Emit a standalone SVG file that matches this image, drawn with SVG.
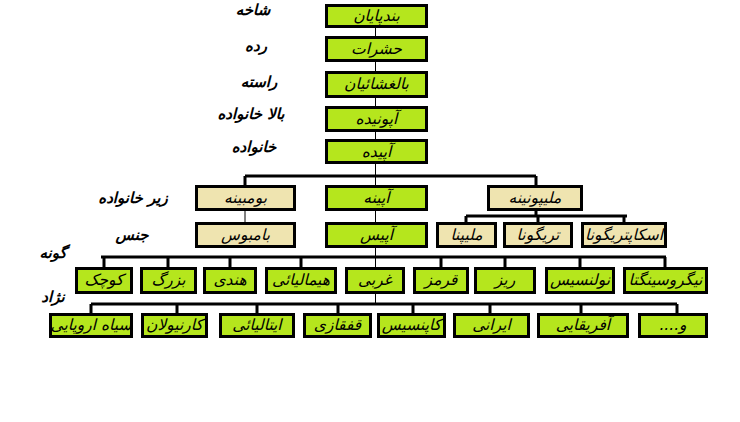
<svg xmlns="http://www.w3.org/2000/svg" width="740" height="422" viewBox="0 0 740 422">
<style>
.g{fill:#B5E61D;stroke:#000;stroke-width:3}
.b{fill:#EFE4B0;stroke:#000;stroke-width:3}
.t{font-family:"DejaVu Sans",sans-serif;font-size:15.5px;font-style:italic;text-anchor:middle;fill:#000}
.l{font-family:"DejaVu Sans",sans-serif;font-size:15px;font-style:italic;font-weight:bold;text-anchor:middle;fill:#000}
.c{stroke:#000;fill:none}
.bus{stroke-width:3}
.thin{stroke-width:1}
</style>
<rect width="740" height="422" fill="#fff"/>
<g id="connectors" class="c">
<line class="thin" x1="375.5" y1="28" x2="375.5" y2="304"/>
<path class="bus" d="M245 176H536M245 176V186M536 176V186M466 216H627M466 216V223M538 216V223M624 216V223M536 211V216"/>
<line class="thin" x1="245" y1="211" x2="245" y2="222"/>
<path class="bus" d="M101 257H666M104 257V268M168 257V268M230 257V268M301 257V268M441 257V268M505 257V268M580 257V268M665 257V268"/>
<path class="bus" d="M91 304H677M91 304V314M177 304V314M257 304V314M338 304V314M413 304V314M490 304V314M581 304V314M677 304V314"/>
</g>
<g id="labels">
<text class="l" x="253" y="15">شاخه</text>
<text class="l" x="256" y="51">رده</text>
<text class="l" x="259" y="87">راسته</text>
<text class="l" x="251" y="119">بالا خانواده</text>
<text class="l" x="254" y="152">خانواده</text>
<text class="l" x="133" y="203">زیر خانواده</text>
<text class="l" x="132" y="240">جنس</text>
<text class="l" x="53" y="258">گونه</text>
<text class="l" x="53" y="302">نژاد</text>
</g>
<g id="n1"><rect class="g" x="326.5" y="5.5" width="100" height="21"/><text class="t" x="376.5" y="21">بندپایان</text></g>
<g id="n2"><rect class="g" x="326.5" y="37.5" width="100" height="23"/><text class="t" x="376.5" y="54">حشرات</text></g>
<g id="n3"><rect class="g" x="326.5" y="72.5" width="100" height="24"/><text class="t" x="376.5" y="89">بالغشائیان</text></g>
<g id="n4"><rect class="g" x="326.5" y="107.5" width="100" height="23"/><text class="t" x="376.5" y="124">آپونیده</text></g>
<g id="n5"><rect class="g" x="326.5" y="140.5" width="100" height="22"/><text class="t" x="376.5" y="157">آپیده</text></g>
<g id="bombinae"><rect class="b" x="196.5" y="186.5" width="98" height="23"/><text class="t" x="245.5" y="203">بومبینه</text></g>
<g id="apinae"><rect class="g" x="326.5" y="186.5" width="100" height="23"/><text class="t" x="376.5" y="203">آپینه</text></g>
<g id="meliponinae"><rect class="b" x="488.5" y="186.5" width="93" height="23"/><text class="t" x="535" y="203">ملیپونینه</text></g>
<g id="bombus"><rect class="b" x="196.5" y="223.5" width="98" height="23"/><text class="t" x="245.5" y="240">بامبوس</text></g>
<g id="apis"><rect class="g" x="326.5" y="223.5" width="100" height="23"/><text class="t" x="376.5" y="240">آپیس</text></g>
<g id="melipona"><rect class="b" x="437.5" y="223.5" width="58" height="23"/><text class="t" x="466.5" y="240">ملیپنا</text></g>
<g id="trigona"><rect class="b" x="504.5" y="223.5" width="67" height="23"/><text class="t" x="538" y="240">تریگونا</text></g>
<g id="scaptotrigona"><rect class="b" x="582.5" y="223.5" width="83" height="23"/><text class="t" x="624" y="240">اسکاپتریگونا</text></g>
<g id="s1"><rect class="g" x="76.5" y="268.5" width="55" height="24"/><text class="t" x="104" y="285">کوچک</text></g>
<g id="s2"><rect class="g" x="141.5" y="268.5" width="54" height="24"/><text class="t" x="168.5" y="285">بزرگ</text></g>
<g id="s3"><rect class="g" x="204.5" y="268.5" width="51" height="24"/><text class="t" x="230" y="285">هندی</text></g>
<g id="s4"><rect class="g" x="266.5" y="268.5" width="69" height="24"/><text class="t" x="301" y="285">هیمالیائی</text></g>
<g id="s5"><rect class="g" x="346.5" y="268.5" width="57" height="24"/><text class="t" x="375" y="285">غربی</text></g>
<g id="s6"><rect class="g" x="414.5" y="268.5" width="53" height="24"/><text class="t" x="441" y="285">قرمز</text></g>
<g id="s7"><rect class="g" x="475.5" y="268.5" width="59" height="24"/><text class="t" x="505" y="285">ریز</text></g>
<g id="s8"><rect class="g" x="546.5" y="268.5" width="67" height="24"/><text class="t" x="580" y="285">نولنسیس</text></g>
<g id="s9"><rect class="g" x="624.5" y="268.5" width="82" height="24"/><text class="t" x="665.5" y="285">نیگروسینگتا</text></g>
<g id="r1"><rect class="g" x="50.5" y="314.5" width="81" height="22"/><text class="t" x="91" y="330">سیاه اروپایی</text></g>
<g id="r2"><rect class="g" x="142.5" y="314.5" width="64" height="22"/><text class="t" x="174.5" y="330">کارنیولان</text></g>
<g id="r3"><rect class="g" x="220.5" y="314.5" width="73" height="22"/><text class="t" x="257" y="330">ایتالیائی</text></g>
<g id="r4"><rect class="g" x="304.5" y="314.5" width="66" height="22"/><text class="t" x="337.5" y="330">قفقازی</text></g>
<g id="r5"><rect class="g" x="378.5" y="314.5" width="66" height="22"/><text class="t" x="411.5" y="330">کاپنسیس</text></g>
<g id="r6"><rect class="g" x="454.5" y="314.5" width="74" height="22"/><text class="t" x="491.5" y="330">ایرانی</text></g>
<g id="r7"><rect class="g" x="538.5" y="314.5" width="89" height="22"/><text class="t" x="583" y="330">آفریقایی</text></g>
<g id="r8"><rect class="g" x="639.5" y="314.5" width="67" height="22"/><text class="t" x="673" y="330" direction="rtl" unicode-bidi="embed">و....&#x200F;</text></g>
</svg>
